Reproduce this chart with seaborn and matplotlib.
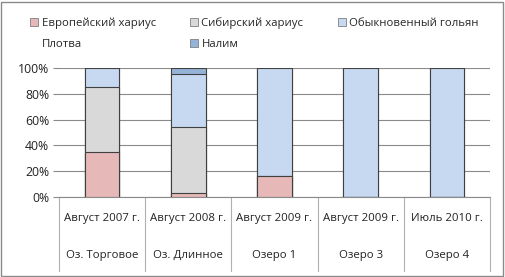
import numpy as np
import seaborn as sns
import matplotlib.pyplot as plt
from matplotlib.patches import Patch, Rectangle

dates = ['Август 2007 г.', 'Август 2008 г.', 'Август 2009 г.', 'Август 2009 г.', 'Июль 2010 г.']
lakes = ['Оз. Торговое', 'Оз. Длинное', 'Озеро 1', 'Озеро 3', 'Озеро 4']
species = ['Европейский хариус', 'Сибирский хариус', 'Обыкновенный гольян', 'Плотва', 'Налим']
colors = ['#E6B9B8', '#D9D9D9', '#C6D9F1', '#FFFFFF', '#95B3D7']

evr = [34.5, 3, 16, 0, 0]
sib = [50.5, 51, 0, 0, 0]
gol = [15, 41, 84, 100, 100]
plotva = [0, 0, 0, 0, 0]
nalim = [0, 5, 0, 0, 0]

sns.set_style('white')
plt.rcParams['font.family'] = ['Open Sans', 'DejaVu Sans']
fs = 8.2

fig = plt.figure(figsize=(5.05, 2.77), dpi=100)
ax = fig.add_axes([59 / 505, 1 - 197 / 277, 431 / 505, 129 / 277])

vals = np.array([evr, sib, gol, plotva, nalim])
cum = np.cumsum(vals, axis=0)
x = list(range(len(dates)))
# draw from the top of the stack down so lower segments sit over upper ones
for i in reversed(range(len(species))):
    if vals[i].sum() == 0:
        continue
    sns.barplot(x=x, y=cum[i], color=colors[i], width=0.4, edgecolor='#404040',
                linewidth=0.8, saturation=1, ax=ax, zorder=3)

ax.set_ylim(0, 100)
ax.set_xlim(-0.5, 4.5)
ax.set_yticks(range(0, 101, 20))
ax.set_yticklabels([f'{v}%' for v in range(0, 101, 20)], color='#222222', fontsize=8.8)
ax.yaxis.grid(True, color='#8a8a8a', linewidth=0.8)
ax.set_axisbelow(True)
ax.tick_params(axis='y', length=4, color='#8a8a8a', pad=3, left=True)
ax.set_xticks([])
ax.set_xlabel('')
for s in ['top', 'right', 'left']:
    ax.spines[s].set_visible(False)
ax.spines['bottom'].set_color('#8a8a8a')

# category labels and separators below the axis
for k in range(len(dates)):
    ax.text(k, -17, dates[k], ha='center', va='center', fontsize=fs, color='#222222',
            transform=ax.transData, clip_on=False)
    ax.text(k, -45, lakes[k], ha='center', va='center', fontsize=fs, color='#222222',
            transform=ax.transData, clip_on=False)
for k in range(len(dates) + 1):
    ax.plot([k - 0.5, k - 0.5], [0, -57], color='#b0b0b0', linewidth=0.8, clip_on=False)

handles = [Patch(facecolor=colors[i], edgecolor='#808080' if i != 3 else 'white',
                 linewidth=0.6) for i in range(5)]
order = [0, 3, 1, 4, 2]
fig.legend([handles[i] for i in order], [species[i] for i in order], ncol=3,
           loc='upper left', bbox_to_anchor=(20 / 505, 1 - 7 / 277), frameon=False,
           fontsize=fs, handlelength=0.7, handleheight=0.7, handletextpad=0.3,
           columnspacing=3.0, labelspacing=0.85)

fig.patches.append(Rectangle((0.002, 0.004), 0.994, 0.99, transform=fig.transFigure,
                             fill=False, edgecolor='#8a8a8a', linewidth=1))
fig.savefig('out.png', dpi=100)
